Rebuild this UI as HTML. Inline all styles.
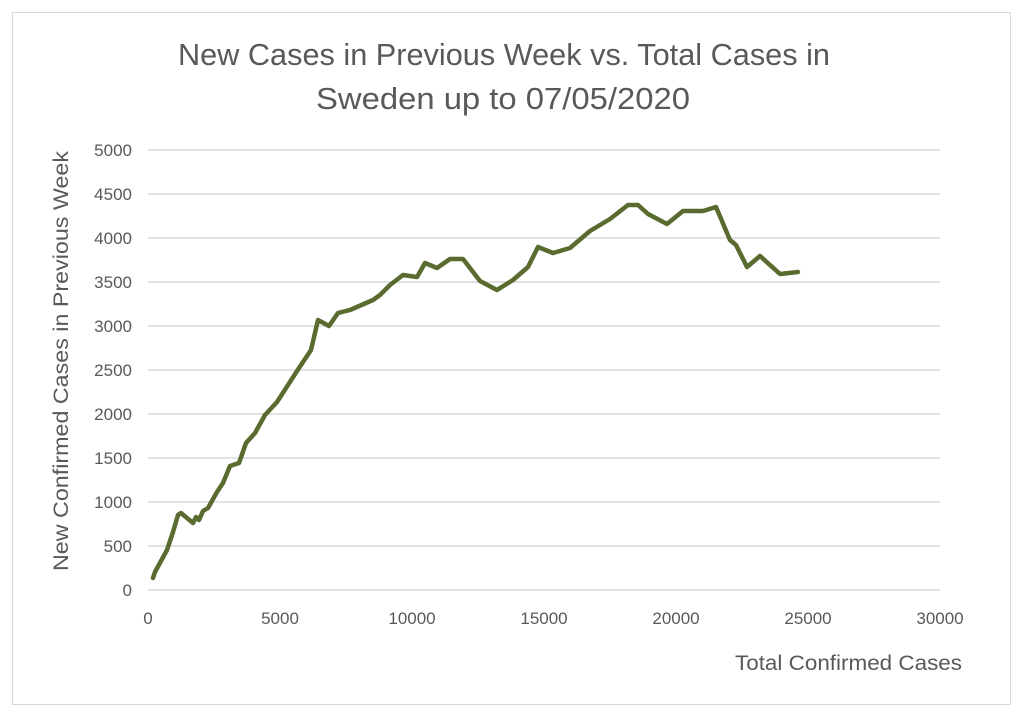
<!DOCTYPE html>
<html><head><meta charset="utf-8"><style>
body{margin:0;background:#fff;}
svg{display:block;font-family:"Liberation Sans",sans-serif;}
</style></head><body>
<svg width="1024" height="717" viewBox="0 0 1024 717">
<rect x="0" y="0" width="1024" height="717" fill="#fff"/>
<rect x="12.5" y="12.5" width="998" height="692" fill="#fff" stroke="#d9d9d9" stroke-width="1"/>
<text x="504" y="65" text-anchor="middle" font-size="30.5" fill="#595959" textLength="652" lengthAdjust="spacingAndGlyphs">New Cases in Previous Week vs. Total Cases in</text>
<text x="503" y="109" text-anchor="middle" font-size="30.5" fill="#595959" textLength="374" lengthAdjust="spacingAndGlyphs">Sweden up to 07/05/2020</text>
<g stroke="#d9d9d9" stroke-width="1.5">
<line x1="148" x2="940" y1="150" y2="150"/><line x1="148" x2="940" y1="194" y2="194"/>
<line x1="148" x2="940" y1="238" y2="238"/><line x1="148" x2="940" y1="282" y2="282"/>
<line x1="148" x2="940" y1="326" y2="326"/><line x1="148" x2="940" y1="370" y2="370"/>
<line x1="148" x2="940" y1="414" y2="414"/><line x1="148" x2="940" y1="458" y2="458"/>
<line x1="148" x2="940" y1="502" y2="502"/><line x1="148" x2="940" y1="546" y2="546"/>
<line x1="148" x2="940" y1="590" y2="590"/>
</g>
<g font-size="17" fill="#595959" text-anchor="end">
<text x="132" y="156">5000</text><text x="132" y="200">4500</text><text x="132" y="244">4000</text>
<text x="132" y="288">3500</text><text x="132" y="332">3000</text><text x="132" y="376">2500</text>
<text x="132" y="420">2000</text><text x="132" y="464">1500</text><text x="132" y="508">1000</text>
<text x="132" y="552">500</text><text x="132" y="596">0</text>
</g>
<g font-size="17" fill="#595959" text-anchor="middle">
<text x="148" y="624">0</text><text x="280" y="624">5000</text><text x="412" y="624">10000</text>
<text x="544" y="624">15000</text><text x="676" y="624">20000</text><text x="808" y="624">25000</text>
<text x="940" y="624">30000</text>
</g>
<text x="962" y="670" text-anchor="end" font-size="21" fill="#595959" textLength="227" lengthAdjust="spacingAndGlyphs">Total Confirmed Cases</text>
<text transform="translate(68,361) rotate(-90)" text-anchor="middle" font-size="21" fill="#595959" textLength="420" lengthAdjust="spacingAndGlyphs">New Confirmed Cases in Previous Week</text>
<polyline fill="none" stroke="#5a6b2f" stroke-width="4.5" stroke-linejoin="round" stroke-linecap="round"
points="153,578 155,572 167,550 173,532 178,515 181,513 193,523 196,517 199,520 203,511 208,508 217,492 223,483 230,466 239,463 246,443 255,433 265,415 277,402 299,368 311,350 318,320 329,326 338,313 350,310 373,300 380,295 390,285 403,275 417,277 425,263 437,268 450,259 463,259 480,281 497,290 513,280 528,267 538,247 553,253 570,248 590,231 610,219 628,205 638,205 648,214 667,224 683,211 703,211 716,207 730,240 736,245 747,267 760,256 780,274 798,272"/>
</svg>
</body></html>
